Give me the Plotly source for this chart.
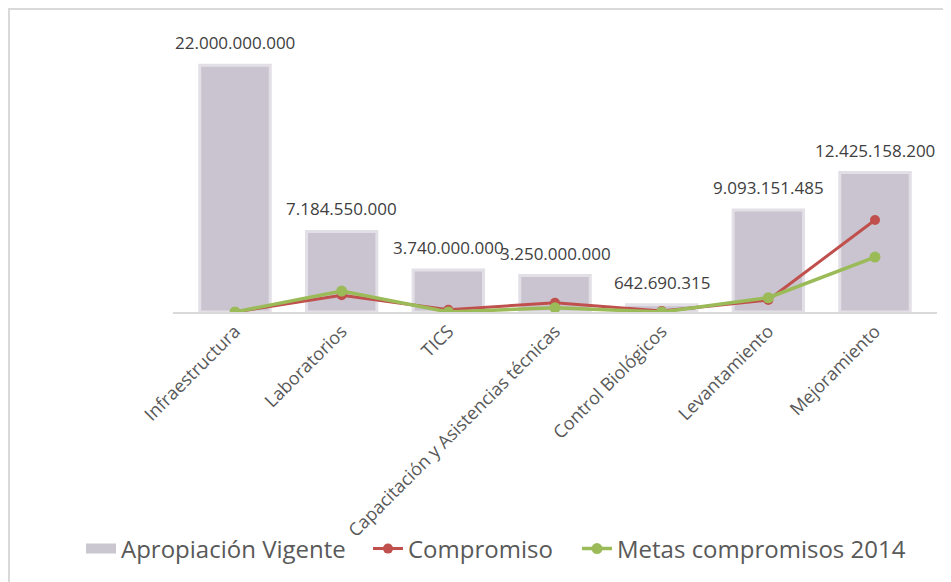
import plotly.graph_objects as go

categorias = ["Infraestructura", "Laboratorios", "TICS",
              "Capacitación y Asistencias técnicas", "Control Biológicos",
              "Levantamiento", "Mejoramiento"]
apropiacion = [22000000000, 7184550000, 3740000000, 3250000000,
               642690315, 9093151485, 12425158200]
compromiso = [0, 1490000000, 200000000, 830000000, 80000000, 1070000000, 8200000000]
metas_2014 = [0, 1870000000, 0, 380000000, 0, 1270000000, 4900000000]

# la página deja 8 px de margen alrededor de la figura
W, H = 943, 574
ML, MR, MT, MB = 165, 14, 32, 270
plot_w = W - ML - MR
plot_h = H - MT - MB


def fmt(v):
    return f"{v:,}".replace(",", ".")


fig = go.Figure()
fig.add_trace(go.Bar(
    x=categorias, y=apropiacion, name="Apropiación Vigente", showlegend=False,
    width=0.66, marker=dict(color="#C9C4CF", line=dict(color="#E2DFE6", width=3)),
))
# solo para la leyenda: rectángulo ancho como en Excel
fig.add_trace(go.Scatter(
    x=[None], y=[None], name="Apropiación Vigente", mode="lines",
    line=dict(color="#CBC7D1", width=15), legend="legend",
))
fig.add_trace(go.Scatter(
    x=categorias, y=compromiso, name="Compromiso", mode="lines+markers",
    line=dict(color="#C0504D", width=3), marker=dict(size=10, color="#C0504D"),
    legend="legend2",
))
fig.add_trace(go.Scatter(
    x=categorias, y=metas_2014, name="Metas compromisos 2014", mode="lines+markers",
    line=dict(color="#9BBB59", width=3.5), marker=dict(size=11, color="#9BBB59"),
    legend="legend3",
))

# etiquetas de datos sobre las barras
for c, v in zip(categorias, apropiacion):
    fig.add_annotation(x=c, y=v, text=fmt(v), showarrow=False, yanchor="bottom",
                       yshift=9, font=dict(family="Open Sans", size=17, color="#404040"))

# marco del gráfico (sale por la derecha y por abajo)
fig.add_shape(type="rect", xref="paper", yref="paper", layer="below",
              x0=(1 - ML) / plot_w, x1=(W + 20 - ML) / plot_w,
              y0=-(H + 20 - MT - plot_h) / plot_h, y1=1 + (MT - 1) / plot_h,
              line=dict(color="#D9D9D9", width=2))

leg_font = dict(family="Open Sans", size=24, color="#595959")


def leyenda(x_px):
    return dict(orientation="h", xref="container", yref="container",
                x=x_px / W, xanchor="left", y=1 - 541 / H, yanchor="middle",
                bgcolor="rgba(0,0,0,0)", font=leg_font)


fig.update_layout(
    width=W, height=H,
    margin=dict(l=ML, r=MR, t=MT, b=MB, autoexpand=False),
    paper_bgcolor="white", plot_bgcolor="white",
    showlegend=True,
    legend=leyenda(73), legend2=leyenda(360), legend3=leyenda(569),
    font=dict(family="Open Sans", color="#595959"),
)
fig.update_xaxes(showline=True, linecolor="#D9D9D9", linewidth=1.5,
                 showgrid=False, tickangle=-45, ticks="", automargin=False,
                 tickfont=dict(family="Open Sans", size=18, color="#595959"))
fig.update_yaxes(visible=False, range=[0, plot_h / 11.22 * 1e9])

fig.write_html("out.html")
